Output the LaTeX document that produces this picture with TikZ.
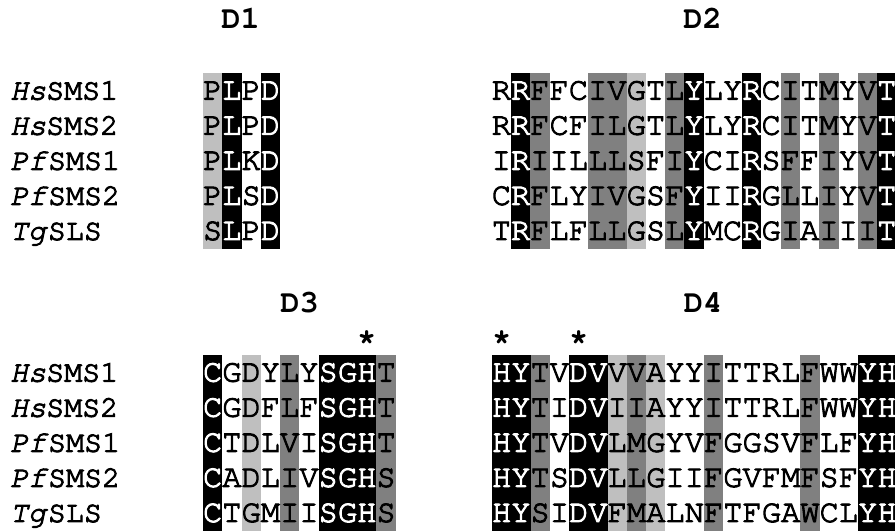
\documentclass[tikz,border=0pt]{standalone}
\usepackage[T1]{fontenc}
\definecolor{lightshade}{gray}{0.75}
\definecolor{darkshade}{gray}{0.5}
\newcommand\heavy[1]{\special{pdf:literal direct 2 Tr 1.0 w}#1\special{pdf:literal direct 0 Tr}}
\newcommand\seqfont{\fontfamily{pcr}\fontseries{m}\fontsize{32}{36}\selectfont}
\newcommand\labfont{\fontfamily{pcr}\fontseries{m}\fontsize{30}{34}\selectfont}
\newcommand\titfont{\fontfamily{pcr}\fontseries{b}\fontsize{32}{36}\selectfont}
\def\cw{19.27}
\def\rh{35.1}
\tikzset{
  seqchar/.style={anchor=base, inner sep=0pt, font=\seqfont},
  labtext/.style={anchor=base west, inner sep=0pt, font=\labfont},
  titletext/.style={anchor=base, inner sep=0pt, font=\titfont},
}
% #1 id, #2 x0, #3 ytop, #4 column codes, #5 rows
\newcommand\seqblock[5]{%
  \foreach \cc [count=\k from 0] in {#4} {
    \ifcase\cc\relax
    \or \fill[lightshade] (#2+\k*\cw, #3) rectangle ++(\cw, 5*\rh);
    \or \fill[darkshade] (#2+\k*\cw, #3) rectangle ++(\cw, 5*\rh);
    \or \fill[black] (#2+\k*\cw, #3) rectangle ++(\cw, 5*\rh);
    \fi
  }
  \foreach \row [count=\r from 0] in {#5} {
    \foreach \ch [count=\k from 0] in \row {
      \pgfmathtruncatemacro\code{{#4}[\k]}
      \ifnum\code=3 \def\tc{white}\else\def\tc{black}\fi
      \node[seqchar, text=\tc] (#1-\r-\k) at (#2+\k*\cw+0.5*\cw, #3+\r*\rh+0.5*\rh+9) {\heavy{\ch}};
    }
  }
}
\newcommand\labels[2]{% #1 id, #2 ytop
  \foreach \lab [count=\r from 0] in {\textit{Hs}SMS1,\textit{Hs}SMS2,\textit{Pf}SMS1,\textit{Pf}SMS2,\textit{Tg}SLS} {
    \node[labtext] (#1-\r) at (10, #2+\r*\rh+0.5*\rh+9) {\heavy{\lab}};
  }
}
\begin{document}
\begin{tikzpicture}[x=1pt, y=-1pt]
\useasboundingbox (0,0) rectangle (895,532);
\fill[white] (0,0) rectangle (895,532);

% titles
\node[titletext] (tD1) at (240.5, 29) {D1};
\node[titletext] (tD2) at (702.5, 28.5) {D2};
\node[titletext] (tD3) at (299.5, 312) {D3};
\node[titletext] (tD4) at (703, 312) {D4};

% stars
\node[titletext] (s1) at (203+8.5*\cw, 346) {*};
\node[titletext] (s2) at (492+0.5*\cw, 346) {*};
\node[titletext] (s3) at (492+4.5*\cw, 346) {*};

\labels{lu}{73}
\labels{ll}{355}

\seqblock{D1}{203}{73}{1,3,0,3}{
  {P,L,P,D},{P,L,P,D},{P,L,K,D},{P,L,S,D},{S,L,P,D}}

\seqblock{D2}{491.7}{73}{0,3,2,0,0,2,2,1,0,2,3,0,0,3,0,2,0,2,0,2,3}{
  {R,R,F,F,C,I,V,G,T,L,Y,L,Y,R,C,I,T,M,Y,V,T},
  {R,R,F,C,F,I,L,G,T,L,Y,L,Y,R,C,I,T,M,Y,V,T},
  {I,R,I,I,L,L,L,S,F,I,Y,C,I,R,S,F,F,I,Y,V,T},
  {C,R,F,L,Y,I,V,G,S,F,Y,I,I,R,G,L,L,I,Y,V,T},
  {T,R,F,L,F,L,L,G,S,L,Y,M,C,R,G,I,A,I,I,I,T}}

\seqblock{D3}{203}{355}{3,0,1,0,2,0,3,3,3,2}{
  {C,G,D,Y,L,Y,S,G,H,T},
  {C,G,D,F,L,F,S,G,H,T},
  {C,T,D,L,V,I,S,G,H,T},
  {C,A,D,L,I,V,S,G,H,S},
  {C,T,G,M,I,I,S,G,H,S}}

\seqblock{D4}{492}{355}{3,3,2,0,3,3,1,2,1,0,0,2,0,0,0,0,2,0,0,3,3}{
  {H,Y,T,V,D,V,V,V,A,Y,Y,I,T,T,R,L,F,W,W,Y,H},
  {H,Y,T,I,D,V,I,I,A,Y,Y,I,T,T,R,L,F,W,W,Y,H},
  {H,Y,T,V,D,V,L,M,G,Y,V,F,G,G,S,V,F,L,F,Y,H},
  {H,Y,T,S,D,V,L,L,G,I,I,F,G,V,F,M,F,S,F,Y,H},
  {H,Y,S,I,D,V,F,M,A,L,N,F,T,F,G,A,W,C,L,Y,H}}
\end{tikzpicture}
\end{document}
